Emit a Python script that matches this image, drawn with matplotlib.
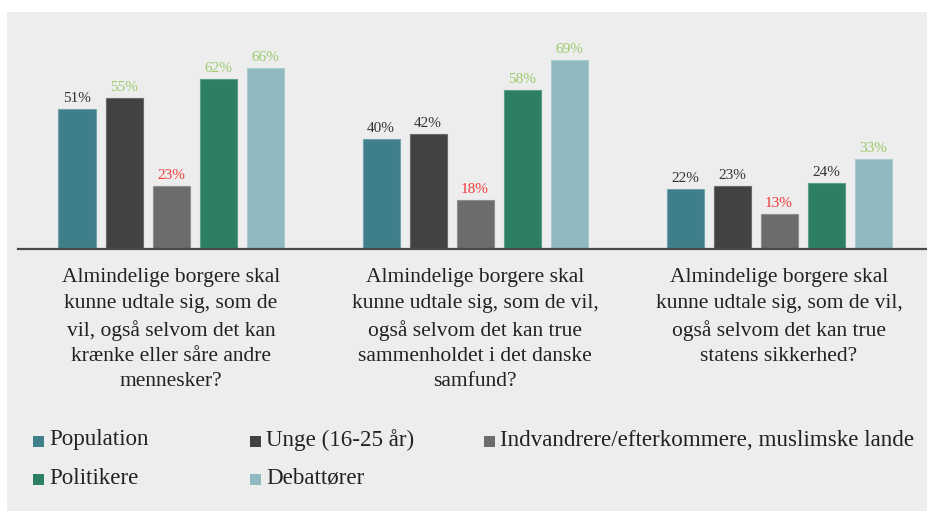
import numpy as np
import matplotlib
matplotlib.use("Agg")
from matplotlib import pyplot as plt
from matplotlib.patches import Rectangle

plt.rcParams['font.family'] = ['Liberation Serif', 'DejaVu Serif']

# data
questions = [
    "Almindelige borgere skal\nkunne udtale sig, som de\nvil, også selvom det kan\nkrænke eller såre andre\nmennesker?",
    "Almindelige borgere skal\nkunne udtale sig, som de vil,\nogså selvom det kan true\nsammenholdet i det danske\nsamfund?",
    "Almindelige borgere skal\nkunne udtale sig, som de vil,\nogså selvom det kan true\nstatens sikkerhed?",
]
series = ["Population", "Unge (16-25 år)", "Indvandrere/efterkommere, muslimske lande",
          "Politikere", "Debattører"]
population = [51, 40, 22]
unge = [55, 42, 23]
indvandrere = [23, 18, 13]
politikere = [62, 58, 24]
debattorer = [66, 69, 33]
values = [population, unge, indvandrere, politikere, debattorer]

# label colour per value: d = dark, g = green (higher), r = red (lower)
label_kind = [
    ["d", "d", "d"],
    ["g", "d", "d"],
    ["r", "r", "r"],
    ["g", "g", "d"],
    ["g", "g", "g"],
]

bar_colors = ["#3F7F8A", "#424242", "#6C6C6C", "#2C7F63", "#8FB8C0"]
edge_colors = ["#6FA3AC", "#6A6A6A", "#8E8E8E", "#5A9F86", "#A9CCD2"]
text_colors = {"d": "#333333", "g": "#9BCB6B", "r": "#F03A3A"}
bg = "#EDEDED"

W, H = 928, 511
fig = plt.figure(figsize=(W / 100, H / 100), dpi=100)
fig.patch.set_facecolor("white")
fig.patches.append(Rectangle((7 / W, 0), 1 - 7 / W, 1 - 12 / H,
                             transform=fig.transFigure, facecolor=bg,
                             edgecolor="none", zorder=-5))

base_y = 249.5
top_y = 12
ax = fig.add_axes([18 / W, 1 - base_y / H, 1 - 18 / W, (base_y - top_y) / H])
ax.set_facecolor("none")
ax.set_zorder(2)

px_per_pct = 2.75
ax.set_ylim(0, (base_y - top_y) / px_per_pct)

group_px = 304.0
left = -(171 - 18) / group_px
ax.set_xlim(left, left + (W - 18) / group_px)

x = np.arange(len(questions))
pitch = 47 / group_px
width = 37 / group_px
for i, (vals, name) in enumerate(zip(values, series)):
    pos = x + (i - 2) * pitch
    bars = ax.bar(pos, vals, width, color=bar_colors[i], edgecolor=edge_colors[i],
                  linewidth=0.8, label=name, zorder=2)
    for b, v, k in zip(bars, vals, label_kind[i]):
        ax.annotate("%d%%" % v, xy=(b.get_x() + b.get_width() / 2, v),
                    xytext=(0, 3), textcoords="offset points",
                    ha="center", va="bottom", fontsize=11, color=text_colors[k])

for s in ["top", "left", "right"]:
    ax.spines[s].set_visible(False)
ax.spines["bottom"].set_color("#4A4A4A")
ax.spines["bottom"].set_linewidth(1.6)
ax.set_xticks([])
ax.set_yticks([])

for xi, q in zip(x, questions):
    ax.annotate(q, xy=(xi, 0), xycoords=("data", "axes fraction"),
                xytext=(0, -13.5), textcoords="offset points",
                ha="center", va="top", fontsize=15.5, color="#222222",
                linespacing=1.45, annotation_clip=False)

# legend, laid out by hand in two rows
leg_pos = [(33, 440), (250, 440), (484, 440), (33, 478), (250, 478)]
for (lx, ly), name, c in zip(leg_pos, series, bar_colors):
    fig.patches.append(Rectangle((lx / W, 1 - (ly + 7) / H), 11 / W, 11 / H,
                                 transform=fig.transFigure, facecolor=c,
                                 edgecolor="none", zorder=3))
    fig.text((lx + 16) / W, 1 - ly / H, name, ha="left", va="center",
             fontsize=16.6, color="#222222")

fig.savefig("out.png", dpi=100, facecolor=fig.get_facecolor())
